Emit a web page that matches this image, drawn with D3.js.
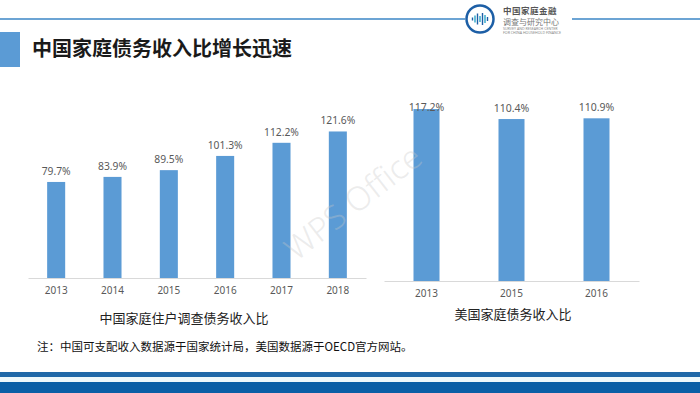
<!DOCTYPE html>
<html>
<head>
<meta charset="utf-8">
<script src="https://cdn.jsdelivr.net/npm/d3@7"></script>
<style>
  body { margin: 0; background: #fff; }
  svg text { font-family: "Noto Sans", "Noto Sans CJK SC", sans-serif; }
  .cjk { font-family: "Noto Sans CJK SC", sans-serif !important; }
</style>
</head>
<body>
<div id="visual"></div>
<script>
var cnYears = ["2013", "2014", "2015", "2016", "2017", "2018"];
var cnValues = [79.7, 83.9, 89.5, 101.3, 112.2, 121.6];
var usYears = ["2013", "2015", "2016"];
var usValues = [117.2, 110.4, 110.9];

var barColor = "#5b9bd5";
var labelColor = "#595959";

var svg = d3.select("#visual").append("svg")
  .attr("width", 700)
  .attr("height", 393);

svg.append("rect").attr("width", 700).attr("height", 393).attr("fill", "#fff");

// header line + logo
svg.append("line").attr("x1", 0).attr("x2", 465).attr("y1", 19).attr("y2", 19)
  .attr("stroke", "#3b86c6").attr("stroke-width", 1.5);
svg.append("line").attr("x1", 572).attr("x2", 700).attr("y1", 19).attr("y2", 19)
  .attr("stroke", "#3b86c6").attr("stroke-width", 1.5);

var logo = svg.append("g").attr("transform", "translate(480,19)");
logo.append("circle").attr("r", 13.5).attr("fill", "#fff")
  .attr("stroke", "#1d5fa6").attr("stroke-width", 2.5);
var waves = [3, 7, 11, 6, 12, 8, 4];
logo.selectAll(".wave").data(waves).enter().append("line")
  .attr("x1", function(d, i) { return -7.5 + i * 2.5; })
  .attr("x2", function(d, i) { return -7.5 + i * 2.5; })
  .attr("y1", function(d) { return -d / 2; })
  .attr("y2", function(d) { return d / 2; })
  .attr("stroke", function(d, i) { return i % 2 ? "#2aa7c9" : "#1d5fa6"; })
  .attr("stroke-width", 1.4);

svg.append("text").attr("class", "cjk").attr("x", 503).attr("y", 14)
  .attr("font-size", 8.5).attr("font-weight", 700).attr("fill", "#555")
  .attr("letter-spacing", 0.5).text("中国家庭金融");
svg.append("text").attr("class", "cjk").attr("x", 503).attr("y", 24.5)
  .attr("font-size", 8).attr("fill", "#777").text("调查与研究中心");
svg.append("text").attr("x", 503).attr("y", 30)
  .attr("font-size", 3.6).attr("fill", "#888").text("SURVEY AND RESEARCH CENTER");
svg.append("text").attr("x", 503).attr("y", 34)
  .attr("font-size", 3.6).attr("fill", "#888").text("FOR CHINA HOUSEHOLD FINANCE");

// title
svg.append("rect").attr("x", 0).attr("y", 32).attr("width", 20).attr("height", 35)
  .attr("fill", "#5b9bd5");
svg.append("text").attr("class", "cjk").attr("x", 32).attr("y", 56)
  .attr("font-size", 20).attr("font-weight", 700).attr("fill", "#1a1a1a")
  .text("中国家庭债务收入比增长迅速");

function barChart(years, values, x0, x1, base, pxPer, pInner, labelFont, minLabelY) {
  var x = d3.scaleBand().domain(years).range([x0, x1])
    .paddingInner(pInner).paddingOuter(pInner / 2);
  var y = d3.scaleLinear().domain([0, 140]).range([base, base - 140 * pxPer]);
  var g = svg.append("g");
  var data = years.map(function(d, i) { return { year: d, value: values[i] }; });

  g.selectAll(".bar").data(data).enter().append("rect")
    .attr("x", function(d) { return x(d.year); })
    .attr("width", x.bandwidth())
    .attr("y", function(d) { return y(d.value); })
    .attr("height", function(d) { return base - y(d.value); })
    .attr("fill", barColor);

  var axis = g.append("g").attr("transform", "translate(0," + base + ")")
    .call(d3.axisBottom(x).tickSize(0).tickPadding(9));
  axis.select(".domain").attr("stroke", "#d9d9d9").attr("stroke-width", 1);
  axis.selectAll("text").attr("font-size", 10).attr("fill", labelColor)
    .attr("font-family", "Noto Sans, sans-serif");

  g.selectAll(".lbl").data(data).enter().append("text")
    .attr("x", function(d) { return x(d.year) + x.bandwidth() / 2; })
    .attr("y", function(d) { return Math.max(y(d.value) - 7, minLabelY); })
    .attr("text-anchor", "middle")
    .attr("font-size", labelFont).attr("fill", labelColor)
    .text(function(d) { return d.value.toFixed(1) + "%"; });
}

barChart(cnYears, cnValues, 28, 366, 278, 1.205, 0.68, 10.3, 0);
barChart(usYears, usValues, 384, 639, 281, 1.467, 0.694, 10.5, 111);

// watermark, on top of the bars
svg.append("text").attr("transform", "translate(296,262) rotate(-38)")
  .attr("font-size", 33).attr("font-family", "Lato, sans-serif")
  .attr("font-weight", 300).attr("fill", "#c8c8c8").attr("fill-opacity", 0.35)
  .text("WPS Office");

// chart captions
svg.append("text").attr("class", "cjk").attr("x", 184).attr("y", 323)
  .attr("text-anchor", "middle").attr("font-size", 13).attr("fill", "#222")
  .text("中国家庭住户调查债务收入比");
svg.append("text").attr("class", "cjk").attr("x", 513).attr("y", 319)
  .attr("text-anchor", "middle").attr("font-size", 13).attr("fill", "#222")
  .text("美国家庭债务收入比");

svg.append("text").attr("class", "cjk").attr("x", 37).attr("y", 351)
  .attr("font-size", 11.5).attr("fill", "#111")
  .text("注：中国可支配收入数据源于国家统计局，美国数据源于OECD官方网站。");

// footer bands
svg.append("rect").attr("x", 0).attr("y", 372).attr("width", 700).attr("height", 5)
  .attr("fill", "#1f68a8");
svg.append("rect").attr("x", 0).attr("y", 377).attr("width", 700).attr("height", 5)
  .attr("fill", "#eef8fb");
svg.append("rect").attr("x", 0).attr("y", 382).attr("width", 700).attr("height", 11)
  .attr("fill", "#0b5fa6");
</script>
</body>
</html>
